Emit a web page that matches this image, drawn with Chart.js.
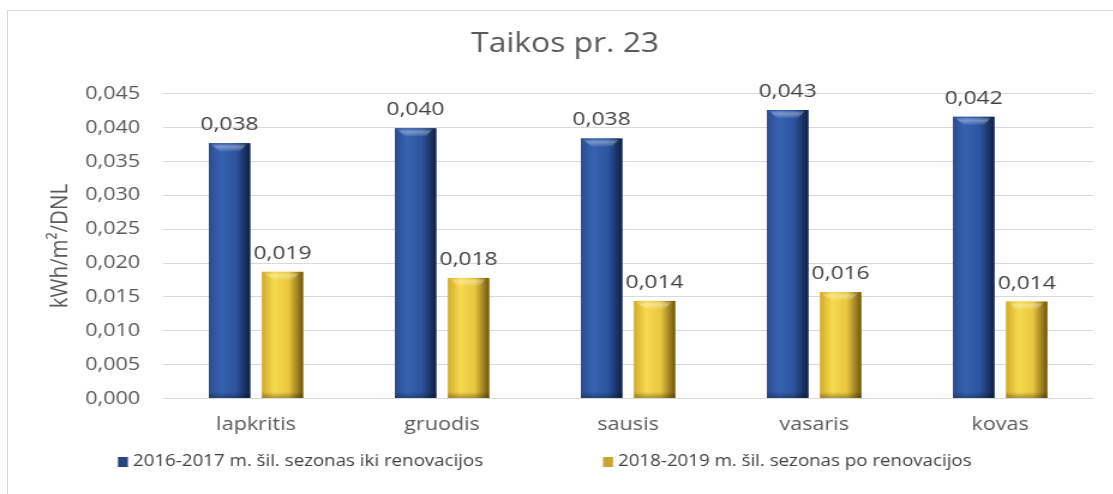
<!DOCTYPE html>
<html>
<head>
<meta charset="utf-8">
<script src="https://cdn.jsdelivr.net/npm/chart.js@4.4.0/dist/chart.umd.min.js"></script>
<style>
  html, body { margin: 0; padding: 0; background: #fff; overflow: hidden; }
  #frame { position: absolute; left: 7px; top: 10px; width: 1130px; height: 500px; border: 1px solid #d9d9d9; box-sizing: border-box; }
  #wrap { position: absolute; left: 0; top: 0; width: 928px; height: 494px; transform: scaleX(1.2); transform-origin: 0 0; }
</style>
</head>
<body>
<div id="frame"></div>
<div id="wrap"><canvas id="c" width="928" height="494"></canvas></div>
<script>
const titleText = 'Taikos pr. 23';
const yAxisTitle = 'kWh/m²/DNL';
const categories = ['lapkritis', 'gruodis', 'sausis', 'vasaris', 'kovas'];
const seriesNames = ['2016-2017 m. šil. sezonas iki renovacijos', '2018-2019 m. šil. sezonas po renovacijos'];
const before = [0.0377, 0.0399, 0.0384, 0.0426, 0.0416];
const after = [0.0187, 0.0178, 0.0144, 0.0157, 0.0143];
const yTicks = [0, 0.005, 0.010, 0.015, 0.020, 0.025, 0.030, 0.035, 0.040, 0.045];

const FONT = "'Open Sans', 'Noto Sans', sans-serif";
const fmt = v => v.toFixed(3).replace('.', ',');

const blueStops = ['#2a4d94', '#3763b2', '#2d559f', '#0f2042'];
const yellowStops = ['#d4ab2a', '#f6da4e', '#e8c63e', '#6e5410'];
const legendColors = ['#26457f', '#c9a432'];

const barStyle = {
  id: 'barStyle',
  afterDatasetsDraw(chart) {
    const ctx = chart.ctx;
    chart.data.datasets.forEach((ds, i) => {
      const stops = i === 0 ? blueStops : yellowStops;
      chart.getDatasetMeta(i).data.forEach(bar => {
        const x0 = bar.x - bar.width / 2, x1 = bar.x + bar.width / 2;
        const top = bar.y, bot = bar.base;
        const g = ctx.createLinearGradient(x0, 0, x1, 0);
        g.addColorStop(0, stops[0]);
        g.addColorStop(0.3, stops[1]);
        g.addColorStop(0.65, stops[2]);
        g.addColorStop(1, stops[3]);
        ctx.save();
        ctx.fillStyle = g;
        ctx.fillRect(x0, top, x1 - x0, bot - top);
        const bw = x1 - x0;
        const hg = ctx.createLinearGradient(0, top, 0, top + 9);
        hg.addColorStop(0, 'rgba(255,255,255,0.05)');
        hg.addColorStop(0.4, 'rgba(255,255,255,0.35)');
        hg.addColorStop(1, 'rgba(255,255,255,0)');
        ctx.fillStyle = hg;
        ctx.beginPath();
        ctx.moveTo(x0 + 2, top + 1);
        ctx.lineTo(x1 - 3, top + 1);
        ctx.lineTo(x1 - bw * 0.25, top + 8);
        ctx.lineTo(x0 + bw * 0.25, top + 8);
        ctx.closePath();
        ctx.fill();
        const sg = ctx.createLinearGradient(0, bot - 6, 0, bot);
        sg.addColorStop(0, 'rgba(0,0,0,0)');
        sg.addColorStop(1, 'rgba(0,0,0,0.3)');
        ctx.fillStyle = sg;
        ctx.fillRect(x0, bot - 6, bw, 6);
        ctx.restore();
      });
    });
    ctx.save();
    ctx.font = '19px ' + FONT;
    ctx.fillStyle = '#404040';
    ctx.textAlign = 'center';
    ctx.textBaseline = 'bottom';
    chart.data.datasets.forEach((ds, i) => {
      chart.getDatasetMeta(i).data.forEach((bar, j) => {
        ctx.fillText(fmt(ds.data[j]), bar.x, bar.y - 9);
      });
    });
    ctx.restore();
  }
};

const customLegend = {
  id: 'customLegend',
  afterDraw(chart) {
    const ctx = chart.ctx;
    const starts = [98.3, 502.5];
    const cy = 462;
    ctx.save();
    ctx.font = '15.6px ' + FONT;
    ctx.textBaseline = 'middle';
    ctx.textAlign = 'left';
    chart.data.datasets.forEach((ds, i) => {
      const x = starts[i];
      ctx.fillStyle = legendColors[i];
      ctx.fillRect(x, cy - 5, 8.3, 10);
      ctx.fillStyle = '#404040';
      ctx.fillText(ds.label, x + 12.5, cy);
    });
    ctx.restore();
  }
};

new Chart(document.getElementById('c'), {
  type: 'bar',
  data: {
    labels: categories,
    datasets: [
      { label: seriesNames[0], data: before, backgroundColor: blueStops[1], borderWidth: 0 },
      { label: seriesNames[1], data: after, backgroundColor: yellowStops[1], borderWidth: 0 }
    ]
  },
  options: {
    responsive: false,
    animation: false,
    devicePixelRatio: 1,
    categoryPercentage: 0.57,
    barPercentage: 0.78,
    layout: { padding: { left: 30.8, right: 17, top: 0, bottom: 50 } },
    plugins: {
      title: { display: true, text: titleText, color: '#595959', font: { family: FONT, size: 26.5, weight: 'normal' }, padding: { top: 29, bottom: 33 } },
      legend: { display: false },
      tooltip: { enabled: false }
    },
    scales: {
      x: {
        grid: { display: false },
        border: { display: false },
        ticks: { color: '#595959', font: { family: FONT, size: 18 }, padding: 8 }
      },
      y: {
        min: 0, max: 0.045,
        afterBuildTicks: axis => { axis.ticks = yTicks.map(v => ({ value: v })); },
        afterFit: axis => { axis.width = 105; },
        grid: { color: '#d9d9d9', drawTicks: false },
        border: { display: false },
        ticks: { color: '#595959', font: { family: FONT, size: 18 }, padding: 19, callback: v => fmt(v) },
        title: { display: true, text: yAxisTitle, color: '#595959', font: { family: FONT, size: 20.5 }, padding: 6.6 }
      }
    }
  },
  plugins: [barStyle, customLegend]
});
</script>
</body>
</html>
